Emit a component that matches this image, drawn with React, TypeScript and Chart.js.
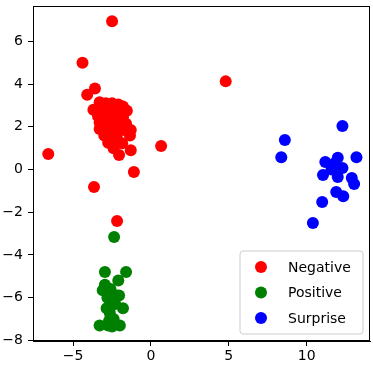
import React, { useEffect, useRef } from "react";
import { Chart, registerables } from "chart.js";

Chart.register(...registerables);

const seriesLabels = ["Negative", "Positive", "Surprise"];
const seriesColors = ["#ff0000", "#008000", "#0000ff"];

const negativeX = [
  -2.5, -4.4, -3.6, -4.1, -6.6, 0.65, 4.8, -1.1, -2.05, -1.3, -3.66, -2.18,
  -3.3, -2.9, -2.5, -2.1, -1.8,
  -3.7, -3.2, -2.7, -2.3, -1.9, -1.55,
  -3.4, -3.0, -2.6, -2.2, -1.8,
  -3.3, -2.8, -2.4, -2.0, -1.6,
  -3.3, -2.9, -2.5, -2.1, -1.7, -1.3,
  -3.0, -2.6, -2.2, -1.35,
  -2.75, -2.3, -1.85, -2.4,
];
const negativeY = [
  6.95, 5.0, 3.8, 3.5, 0.73, 1.1, 4.13, -0.12, 0.68, 0.9, -0.82, -2.41,
  3.15, 3.1, 3.1, 3.05, 2.95,
  2.8, 2.8, 2.85, 2.8, 2.75, 2.75,
  2.5, 2.5, 2.5, 2.5, 2.45,
  2.2, 2.2, 2.2, 2.2, 2.15,
  1.9, 1.9, 1.9, 1.9, 1.85, 1.85,
  1.6, 1.6, 1.6, 1.6,
  1.25, 1.25, 1.23, 1.0,
];

const positiveX = [
  -2.37, -2.96, -1.6, -2.1, -2.96, -3.1, -2.2, -2.05, -2.8, -1.8, -2.85, -2.6,
  -3.3, -2.5, -2.0, -2.75, -2.6, -2.55, -2.65, -2.4, -2.3, -2.7,
];
const positiveY = [
  -3.16, -4.8, -4.8, -5.2, -5.4, -5.65, -5.9, -5.9, -6.0, -6.5, -6.5, -6.9,
  -7.3, -7.35, -7.3, -7.3, -5.6, -6.2, -6.7, -7.0, -6.3, -7.1,
];

const surpriseX = [
  12.3, 8.6, 8.37, 13.2, 11.2, 12.0, 11.05, 12.0, 11.6, 12.3, 11.8,
  12.9, 13.05, 11.9, 12.35, 11.0, 10.4,
];
const surpriseY = [
  2.04, 1.38, 0.58, 0.58, 0.35, 0.55, -0.25, -0.35, 0.0, 0.07, 0.3,
  -0.4, -0.68, -1.05, -1.25, -1.52, -2.5,
];

const xTicks = [-5, 0, 5, 10];
const yTicks = [-8, -6, -4, -2, 0, 2, 4, 6];

const toPoints = (xs: number[], ys: number[]) => xs.map((x, i) => ({ x, y: ys[i] }));

const FONT = "'DejaVu Sans', sans-serif";

const frameAndLegend = {
  id: "frameAndLegend",
  afterDraw(chart: any) {
    const { ctx, chartArea } = chart;
    ctx.save();
    ctx.strokeStyle = "#000";
    ctx.lineWidth = 1;
    ctx.strokeRect(
      Math.round(chartArea.left) + 0.5,
      Math.round(chartArea.top) + 0.5,
      Math.round(chartArea.right - chartArea.left) - 1,
      Math.round(chartArea.bottom - chartArea.top) - 1
    );

    const w = 123;
    const h = 83;
    const x0 = chartArea.right - 7 - w;
    const y0 = chartArea.bottom - 7 - h;
    const r = 3;
    ctx.beginPath();
    ctx.moveTo(x0 + r, y0);
    ctx.lineTo(x0 + w - r, y0);
    ctx.quadraticCurveTo(x0 + w, y0, x0 + w, y0 + r);
    ctx.lineTo(x0 + w, y0 + h - r);
    ctx.quadraticCurveTo(x0 + w, y0 + h, x0 + w - r, y0 + h);
    ctx.lineTo(x0 + r, y0 + h);
    ctx.quadraticCurveTo(x0, y0 + h, x0, y0 + h - r);
    ctx.lineTo(x0, y0 + r);
    ctx.quadraticCurveTo(x0, y0, x0 + r, y0);
    ctx.closePath();
    ctx.fillStyle = "rgba(255,255,255,0.8)";
    ctx.fill();
    ctx.strokeStyle = "#cccccc";
    ctx.lineWidth = 1;
    ctx.stroke();

    ctx.font = `14px ${FONT}`;
    ctx.textBaseline = "middle";
    ctx.textAlign = "left";
    chart.data.datasets.forEach((ds: any, i: number) => {
      const cy = y0 + 16 + i * 25.5;
      ctx.beginPath();
      ctx.arc(x0 + 21, cy, 6, 0, Math.PI * 2);
      ctx.fillStyle = ds.backgroundColor;
      ctx.fill();
      ctx.fillStyle = "#000";
      ctx.fillText(ds.label, x0 + 48, cy + 1);
    });
    ctx.restore();
  },
};

export default function App() {
  const ref = useRef<HTMLCanvasElement>(null);
  useEffect(() => {
    document.body.style.margin = "0";
    const datasets = [
      toPoints(negativeX, negativeY),
      toPoints(positiveX, positiveY),
      toPoints(surpriseX, surpriseY),
    ].map((data, i) => ({
      label: seriesLabels[i],
      data,
      backgroundColor: seriesColors[i],
      borderColor: seriesColors[i],
      pointRadius: 6,
      pointBorderWidth: 0,
      pointHoverRadius: 6,
    }));
    const tickFmt = (v: any) => (v < 0 ? "\u2212" + Math.abs(v) : String(v));
    const chart = new Chart(ref.current!, {
      type: "scatter",
      data: { datasets },
      options: {
        animation: false,
        responsive: false,
        events: [],
        layout: { autoPadding: false, padding: { top: 6, right: 3, left: 0, bottom: 0 } },
        plugins: { legend: { display: false }, tooltip: { enabled: false } },
        scales: {
          x: {
            type: "linear",
            min: -7.58,
            max: 14.07,
            afterFit: (s: any) => {
              s.height = 26;
              s.paddingLeft = 0;
              s.paddingRight = 0;
              s.paddingTop = 0;
              s.paddingBottom = 0;
            },
            afterBuildTicks: (s: any) => { s.ticks = xTicks.map((v) => ({ value: v })); },
            ticks: { font: { family: FONT, size: 14 }, color: "#000", padding: 2, callback: tickFmt, maxRotation: 0 },
            grid: { drawOnChartArea: false, drawTicks: true, tickLength: 5, color: "#000" },
            border: { display: true, color: "#000" },
          },
          y: {
            type: "linear",
            min: -8.03,
            max: 7.66,
            afterFit: (s: any) => {
              s.width = 33;
              s.paddingLeft = 0;
              s.paddingRight = 0;
              s.paddingTop = 0;
              s.paddingBottom = 0;
            },
            afterBuildTicks: (s: any) => { s.ticks = yTicks.map((v) => ({ value: v })); },
            ticks: { font: { family: FONT, size: 14 }, color: "#000", padding: 5, callback: tickFmt },
            grid: { drawOnChartArea: false, drawTicks: true, tickLength: 5, color: "#000" },
            border: { display: true, color: "#000" },
          },
        },
      },
      plugins: [frameAndLegend],
    });
    return () => chart.destroy();
  }, []);
  return (
    <div style={{ width: 373, height: 367 }}>
      <canvas ref={ref} width={373} height={367} style={{ display: "block" }} />
    </div>
  );
}
